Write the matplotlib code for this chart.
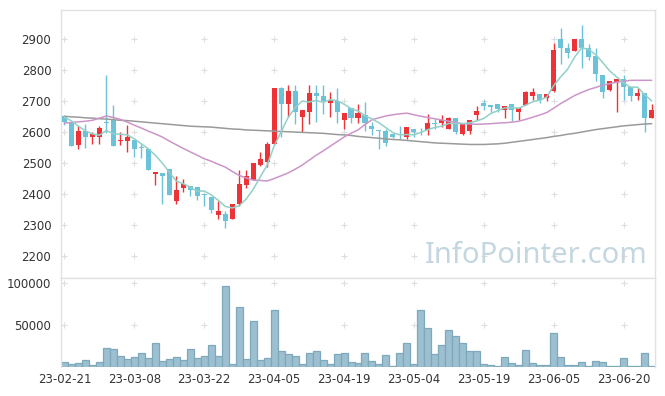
import numpy as np
import matplotlib
matplotlib.use("Agg")
import matplotlib.pyplot as plt

# 일봉 데이터
opens = [2652, 2630, 2560, 2603, 2585, 2585, 2633, 2639, 2572, 2571,
         2577, 2552, 2547, 2466, 2468, 2481, 2378, 2420, 2426, 2424,
         2400, 2391, 2334, 2335, 2322, 2370, 2431, 2445, 2494, 2504,
         2561, 2744, 2693, 2732, 2649, 2666, 2728, 2719, 2694, 2701,
         2641, 2680, 2647, 2657, 2619, 2607, 2606, 2596, 2595, 2585,
         2612, 2605, 2609, 2629, 2630, 2612, 2647, 2596, 2604, 2655,
         2696, 2688, 2693, 2671, 2693, 2666, 2687, 2716, 2723, 2711,
         2735, 2902, 2873, 2862, 2900, 2872, 2845, 2784, 2738, 2762,
         2773, 2748, 2719, 2728, 2646]
highs = [2655, 2630, 2620, 2628, 2600, 2619, 2784, 2687, 2601, 2623,
         2577, 2561, 2547, 2471, 2468, 2481, 2459, 2451, 2426, 2424,
         2400, 2391, 2380, 2345, 2370, 2477, 2477, 2502, 2537, 2570,
         2744, 2748, 2752, 2752, 2673, 2752, 2752, 2752, 2730, 2744,
         2664, 2680, 2693, 2698, 2632, 2607, 2610, 2596, 2620, 2617,
         2612, 2613, 2660, 2643, 2655, 2650, 2647, 2628, 2641, 2684,
         2706, 2688, 2693, 2684, 2693, 2679, 2733, 2744, 2723, 2723,
         2889, 2937, 2887, 2900, 2947, 2885, 2872, 2784, 2765, 2773,
         2785, 2748, 2743, 2728, 2693]
lows = [2623, 2555, 2547, 2551, 2561, 2561, 2597, 2556, 2558, 2537,
        2520, 2518, 2477, 2431, 2370, 2397, 2369, 2406, 2396, 2381,
        2364, 2340, 2322, 2290, 2322, 2362, 2419, 2445, 2490, 2488,
        2561, 2585, 2649, 2628, 2601, 2628, 2633, 2660, 2649, 2630,
        2612, 2630, 2630, 2606, 2590, 2547, 2556, 2581, 2579, 2580,
        2585, 2593, 2590, 2610, 2616, 2612, 2594, 2590, 2596, 2641,
        2671, 2666, 2666, 2647, 2636, 2639, 2687, 2703, 2696, 2700,
        2730, 2822, 2840, 2862, 2809, 2833, 2765, 2711, 2735, 2666,
        2703, 2700, 2703, 2601, 2646]
closes = [2632, 2555, 2606, 2585, 2595, 2613, 2630, 2556, 2577, 2584,
          2546, 2550, 2477, 2471, 2459, 2397, 2413, 2432, 2415, 2395,
          2398, 2351, 2345, 2315, 2370, 2435, 2458, 2502, 2513, 2561,
          2744, 2690, 2732, 2666, 2673, 2728, 2717, 2701, 2705, 2666,
          2664, 2647, 2664, 2630, 2611, 2605, 2565, 2585, 2593, 2617,
          2601, 2603, 2630, 2627, 2639, 2647, 2601, 2628, 2641, 2668,
          2685, 2682, 2674, 2684, 2673, 2679, 2730, 2730, 2706, 2723,
          2865, 2872, 2856, 2900, 2872, 2842, 2787, 2730, 2765, 2773,
          2746, 2717, 2728, 2647, 2673]
volumes = [5950, 3570, 4760, 8730, 2380, 5950, 22600, 21400, 13100, 9530,
           11900, 16700, 10700, 28600, 7150, 9530, 11900, 8340, 21400, 10700,
           13100, 26200, 13100, 96500, 3570, 71500, 9530, 54800, 8340, 10700,
           67900, 19100, 15500, 13100, 3570, 16700, 19100, 8340, 3570, 15500,
           16700, 5950, 4760, 16700, 7150, 3570, 14300, 1190, 16700, 28600,
           3570, 67900, 46400, 15500, 26200, 44100, 36900, 28600, 19100, 19100,
           3570, 2380, 1190, 11900, 4760, 2380, 20200, 4760, 2380, 2380,
           40500, 11900, 2380, 2380, 5950, 1190, 7150, 5950, 1190, 1190,
           10700, 1190, 1190, 16700, 600]

# 이동평균선
ma5 = [2649, 2637, 2620, 2605, 2595, 2591, 2606, 2596, 2594, 2592,
       2579, 2563, 2547, 2526, 2501, 2471, 2443, 2434, 2423, 2410,
       2411, 2398, 2381, 2361, 2356, 2363, 2385, 2416, 2456, 2494,
       2556, 2602, 2648, 2679, 2701, 2698, 2703, 2697, 2705, 2703,
       2691, 2677, 2669, 2654, 2643, 2631, 2615, 2599, 2592, 2593,
       2592, 2600, 2609, 2616, 2620, 2629, 2629, 2628, 2631, 2637,
       2645, 2661, 2670, 2679, 2680, 2678, 2688, 2699, 2704, 2714,
       2751, 2779, 2804, 2843, 2873, 2868, 2851, 2826, 2799, 2779,
       2760, 2746, 2746, 2722, 2702]
ma20 = [2630, 2632, 2634, 2636, 2639, 2646, 2653, 2648, 2642, 2633,
        2623, 2614, 2604, 2595, 2585, 2572, 2560, 2548, 2537, 2526,
        2515, 2507, 2497, 2488, 2474, 2461, 2453, 2446, 2445, 2443,
        2451, 2460, 2469, 2481, 2494, 2510, 2526, 2540, 2555, 2570,
        2585, 2597, 2608, 2625, 2641, 2647, 2653, 2657, 2660, 2662,
        2657, 2652, 2648, 2644, 2640, 2636, 2632, 2628, 2627, 2626,
        2627, 2628, 2630, 2631, 2633, 2636, 2642, 2649, 2656, 2664,
        2678, 2693, 2706, 2719, 2729, 2738, 2745, 2752, 2757, 2762,
        2765, 2768, 2768, 2768, 2768]
ma_long = [2652, 2650, 2649, 2647, 2646, 2644, 2643, 2641, 2639, 2638,
           2636, 2634, 2632, 2630, 2628, 2626, 2624, 2622, 2620, 2619,
           2618, 2617, 2615, 2613, 2611, 2610, 2608, 2607, 2606, 2605,
           2604, 2603, 2602, 2601, 2600, 2599, 2598, 2597, 2595, 2593,
           2592, 2590, 2587, 2585, 2583, 2581, 2579, 2577, 2576, 2574,
           2572, 2570, 2568, 2566, 2565, 2564, 2563, 2562, 2561, 2561,
           2561, 2562, 2563, 2565, 2568, 2571, 2574, 2577, 2580, 2583,
           2587, 2590, 2594, 2597, 2601, 2605, 2609, 2612, 2615, 2618,
           2621, 2623, 2625, 2627, 2628]

tick_pos = [0, 10, 20, 30, 40, 50, 60, 70, 80]
tick_labels = ["23-02-21", "23-03-08", "23-03-22", "23-04-05", "23-04-19",
               "23-05-04", "23-05-19", "23-06-05", "23-06-20"]
price_ticks = [2200, 2300, 2400, 2500, 2600, 2700, 2800, 2900]
vol_ticks = [50000, 100000]

UP = "#ee3338"
DOWN = "#6cc2d8"
SPINE = "#e2e2e2"
TXT = "#333333"

x = np.arange(len(closes))
o = np.array(opens)
c = np.array(closes)
h = np.array(highs)
l = np.array(lows)
colors = [UP if cc >= oo else DOWN for oo, cc in zip(o, c)]

fig = plt.figure(figsize=(6.65, 3.96), dpi=100)
ax = fig.add_axes([61 / 665, 1 - 278 / 396, 594 / 665, 268 / 396])
axv = fig.add_axes([61 / 665, 1 - 367 / 396, 594 / 665, 89 / 396], sharex=ax)

# 그리드 대신 + 표시
gx, gy = np.meshgrid(tick_pos, price_ticks)
ax.scatter(gx.ravel(), gy.ravel(), marker="+", s=20, color="#dedede", linewidths=0.8, zorder=0)
gx, gy = np.meshgrid(tick_pos, vol_ticks)
axv.scatter(gx.ravel(), gy.ravel(), marker="+", s=20, color="#dedede", linewidths=0.8, zorder=0)

# 캔들
ax.vlines(x, l, h, colors=colors, linewidth=1.0, zorder=2)
body = np.maximum(np.abs(c - o), 3)
ax.bar(x, body, bottom=np.minimum(o, c), width=0.72, color=colors, linewidth=0, zorder=3)

# 이동평균
ax.plot(x, ma_long, color="#9a9a9a", linewidth=1.1, zorder=4)
ax.plot(x, ma20, color="#cc95c9", linewidth=1.1, zorder=4)
ax.plot(x, ma5, color="#92d0c8", linewidth=1.1, zorder=4)

ax.text(0.80, 0.085, "InfoPointer.com", transform=ax.transAxes, ha="center", va="center",
        fontsize=21, color="#c4d7e0", family="Noto Sans", zorder=1)

ax.set_xlim(-0.5, len(closes) - 0.5)
ax.set_ylim(2130, 2995)
ax.set_yticks(price_ticks)
ax.tick_params(axis="y", length=0, labelsize=8.5, labelcolor=TXT, pad=7)
ax.tick_params(axis="x", length=0, labelbottom=False)

# 거래량
axv.bar(x, volumes, width=1.0, color="#9cc0d0", edgecolor="#7ea8bc", linewidth=0.9, zorder=2)
axv.set_ylim(0, 106000)
axv.set_yticks(vol_ticks)
axv.set_xticks(tick_pos)
axv.set_xticklabels(tick_labels)
axv.tick_params(axis="y", length=0, labelsize=8.5, labelcolor=TXT, pad=7)
axv.tick_params(axis="x", length=0, labelsize=8.5, labelcolor=TXT, pad=4)

for a in (ax, axv):
    for s in a.spines.values():
        s.set_color(SPINE)
        s.set_linewidth(1.0)
axv.spines["bottom"].set_visible(False)

fig.savefig("out.png", dpi=100)
